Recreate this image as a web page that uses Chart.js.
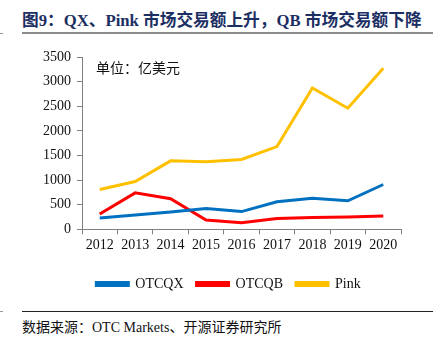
<!DOCTYPE html>
<html>
<head>
<meta charset="utf-8">
<script src="https://cdn.jsdelivr.net/npm/chart.js@4/dist/chart.umd.min.js"></script>
<style>
  body { margin: 0; background: #fff; }
  #wrap { position: relative; width: 440px; height: 351px; overflow: hidden; font-family: "Liberation Serif", "Noto Sans CJK SC", serif; }
  #title { position: absolute; left: 22px; top: 7px; font-size: 16.7px; font-weight: bold; color: #1c2f63; white-space: nowrap; }
  .rule { position: absolute; height: 0; }
  #unit { position: absolute; left: 96px; top: 57px; font-size: 14px; color: #111; white-space: nowrap; }
  #source { position: absolute; left: 22px; top: 316px; font-size: 14px; color: #111; white-space: nowrap; }
  canvas { position: absolute; left: 0; top: 0; }
</style>
</head>
<body>
<div id="wrap">
  <div id="title">图9：QX、Pink 市场交易额上升，QB 市场交易额下降</div>
  <div class="rule" style="left:22px;top:32px;width:411px;border-top:2px solid #8c8c8c;"></div>
  <div class="rule" style="left:0;top:33px;width:3px;border-top:1px solid #999;"></div>
  <canvas id="chart" width="440" height="301"></canvas>
  <div id="unit">单位：亿美元</div>
  <div class="rule" style="left:22px;top:311px;width:411px;border-top:1.5px solid #222;"></div>
  <div class="rule" style="left:0;top:311px;width:3px;border-top:1px solid #999;"></div>
  <div id="source">数据来源：OTC Markets、开源证券研究所</div>
</div>
<script>
// 交易额（亿美元）
const years = ['2012', '2013', '2014', '2015', '2016', '2017', '2018', '2019', '2020'];
const otcqx = [230, 290, 350, 420, 360, 560, 630, 580, 910];
const otcqb = [310, 740, 620, 190, 135, 220, 240, 250, 270];
const pink = [810, 970, 1390, 1370, 1420, 1680, 2870, 2460, 3270];
const yTicks = [0, 500, 1000, 1500, 2000, 2500, 3000, 3500];

const serif = { family: '"Liberation Serif", "Times New Roman", serif', size: 14 };

function line(label, data, color) {
    return {
        label: label,
        data: data,
        borderColor: color,
        backgroundColor: color,
        borderWidth: 3,
        pointRadius: 0,
        tension: 0
    };
}

// 把图例往右挪，与原图位置一致
const shiftLegend = {
    id: 'shiftLegend',
    afterLayout(chart) {
        const lg = chart.legend;
        if (lg) {
            lg.left = 56;
            lg.width = lg.right - lg.left;
        }
    }
};

new Chart(document.getElementById('chart'), {
    type: 'line',
    data: {
        labels: years,
        datasets: [
            line('OTCQX', otcqx, '#0070C0'),
            line('OTCQB', otcqb, '#FF0000'),
            line('Pink', pink, '#FFC000')
        ]
    },
    plugins: [shiftLegend],
    options: {
        responsive: false,
        animation: false,
        layout: { padding: { left: 0, right: 39, top: 57, bottom: 0 } },
        plugins: {
            tooltip: { enabled: false },
            legend: {
                position: 'bottom',
                labels: {
                    boxWidth: 32,
                    boxHeight: 3,
                    padding: 13,
                    color: '#111',
                    font: serif
                }
            }
        },
        scales: {
            x: {
                offset: true,
                grid: { offset: true, drawOnChartArea: false, tickLength: 5, color: '#808080' },
                border: { color: '#808080', width: 1 },
                ticks: { color: '#111', font: serif, padding: 3, maxRotation: 0 },
                afterFit: function (scale) { scale.height = 34.7; }
            },
            y: {
                min: 0,
                max: 3500,
                afterBuildTicks: function (scale) { scale.ticks = yTicks.map(v => ({ value: v })); },
                grid: { drawOnChartArea: false, tickLength: 5, color: '#808080' },
                border: { color: '#808080', width: 1 },
                ticks: { color: '#111', font: serif, padding: 6, callback: v => String(v) },
                afterFit: function (scale) { scale.width = 82; }
            }
        }
    }
});
</script>
</body>
</html>
